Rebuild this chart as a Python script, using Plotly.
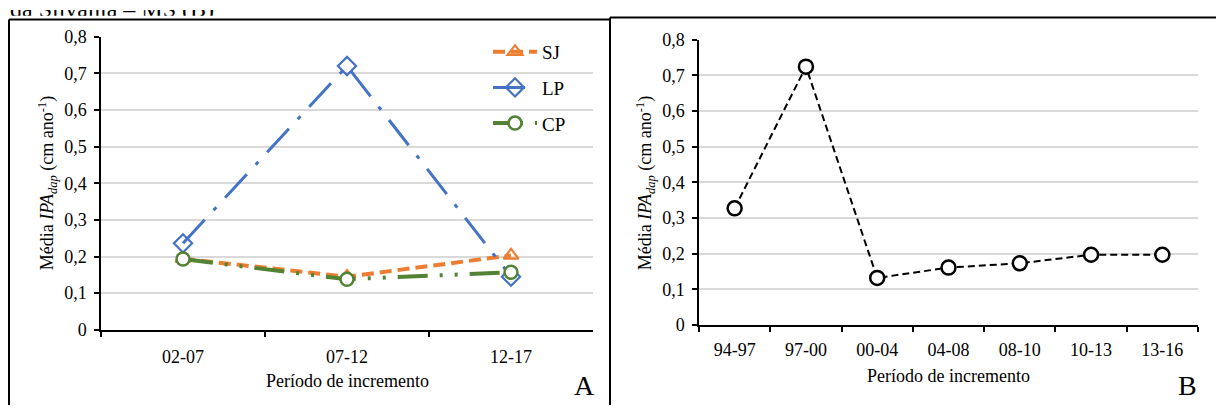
import plotly.graph_objects as go

W, H = 1216, 415

# ---- data ----
periods_a = ["02-07", "07-12", "12-17"]
sj_vals = [0.194, 0.145, 0.203]
lp_vals = [0.236, 0.720, 0.145]
cp_vals = [0.193, 0.138, 0.157]

periods_b = ["94-97", "97-00", "00-04", "04-08", "08-10", "10-13", "13-16"]
b_vals = [0.327, 0.724, 0.132, 0.161, 0.173, 0.197, 0.197]

y_ticks = [0, 0.1, 0.2, 0.3, 0.4, 0.5, 0.6, 0.7, 0.8]
y_ticktext = ["0", "0,1", "0,2", "0,3", "0,4", "0,5", "0,6", "0,7", "0,8"]

top_caption = "da Silvânia – MS (B)"

FONT = "Liberation Serif"

def px_x(p):
    return p / W

def px_y(p):
    return 1 - p / H

fig = go.Figure()

fig.add_trace(go.Scatter(
    x=periods_a, y=sj_vals, name="SJ", legendgroup="a1",
    mode="lines+markers", xaxis="x", yaxis="y",
    line=dict(color="#ED7D31", width=4, dash="12px,6px"),
    marker=dict(symbol="triangle-up-open", size=13, color="#ED7D31",
                line=dict(width=2.2, color="#ED7D31")),
))
fig.add_trace(go.Scatter(
    x=periods_a, y=lp_vals, name="LP", legendgroup="a2",
    mode="lines+markers", xaxis="x", yaxis="y",
    line=dict(color="#4472C4", width=3, dash="32px,13px,4px,13px"),
    marker=dict(symbol="diamond-open", size=14, color="#4472C4",
                line=dict(width=2.2, color="#4472C4")),
))
fig.add_trace(go.Scatter(
    x=periods_a, y=cp_vals, name="CP", legendgroup="a3",
    mode="lines+markers", xaxis="x", yaxis="y",
    line=dict(color="#548235", width=4, dash="30px,12px,3px,12px,3px,12px"),
    marker=dict(symbol="circle", size=13, color="white",
                line=dict(width=2.5, color="#548235")),
))
fig.add_trace(go.Scatter(
    x=periods_b, y=b_vals, name="B", showlegend=False,
    mode="lines+markers", xaxis="x2", yaxis="y2",
    line=dict(color="black", width=2, dash="7px,4px"),
    marker=dict(symbol="circle", size=14, color="white",
                line=dict(width=2.5, color="black")),
))
# cropped caption line at the very top (clipped to a thin strip)
fig.add_trace(go.Scatter(
    x=[10], y=[-1.2], text=[top_caption], mode="text", textposition="top right",
    textfont=dict(family=FONT, size=24, color="black"),
    xaxis="x3", yaxis="y3", showlegend=False, cliponaxis=True,
    hoverinfo="skip",
))

axis_common = dict(
    showline=True, linecolor="black", linewidth=1.5,
    tickfont=dict(family=FONT, size=18, color="black"),
)
yaxis_common = dict(
    axis_common, range=[0, 0.8], tickvals=y_ticks, ticktext=y_ticktext,
    showgrid=True, gridcolor="#d9d9d9", gridwidth=1.5,
    ticks="outside", ticklen=5, tickcolor="black", tickwidth=1.5,
    zeroline=False, fixedrange=True, ticklabelstandoff=4,
)
xaxis_common = dict(
    axis_common, type="category", showgrid=False, zeroline=False,
    ticks="outside", tickson="boundaries", ticklen=5, tickcolor="black",
    tickwidth=1.5, mirror=False,
)
hidden = dict(visible=False, showgrid=False, zeroline=False, fixedrange=True)

fig.update_layout(
    width=W, height=H,
    margin=dict(l=0, r=0, t=0, b=0),
    paper_bgcolor="white", plot_bgcolor="white",
    font=dict(family=FONT, color="black"),
    xaxis=dict(xaxis_common, domain=[px_x(101), px_x(593)], anchor="y",
               range=[-0.5, 2.5], ticklabelstandoff=10),
    yaxis=dict(yaxis_common, domain=[px_y(336), px_y(28)], anchor="x"),
    xaxis2=dict(xaxis_common, domain=[px_x(699), px_x(1198)], anchor="y2",
                range=[-0.5, 6.5], ticklabelstandoff=8),
    yaxis2=dict(yaxis_common, domain=[px_y(331), px_y(31)], anchor="x2"),
    xaxis3=dict(hidden, domain=[0, 1], range=[0, W], anchor="y3"),
    yaxis3=dict(hidden, domain=[px_y(6), 1], range=[0, 1], anchor="x3"),
    legend=dict(
        x=px_x(488), y=px_y(24), xanchor="left", yanchor="top",
        font=dict(family=FONT, size=19, color="black"),
        bgcolor="rgba(0,0,0,0)", tracegroupgap=8, traceorder="grouped",
        itemwidth=44,
    ),
    showlegend=True,
)

ylab = "Média <i>IPA<sub>dap</sub></i> (cm ano<sup>-1</sup>)"
xlab = "Período de incremento"
ann = [
    dict(text=ylab, x=px_x(47), y=px_y(182), textangle=-90, font=dict(size=18)),
    dict(text=ylab, x=px_x(645), y=px_y(182), textangle=-90, font=dict(size=18)),
    dict(text=xlab, x=px_x(347), y=px_y(390), font=dict(size=18)),
    dict(text=xlab, x=px_x(948), y=px_y(385), font=dict(size=18)),
    dict(text="A", x=px_x(584), y=px_y(394), font=dict(size=28)),
    dict(text="B", x=px_x(1187), y=px_y(394), font=dict(size=28)),
]
for a in ann:
    a.setdefault("xanchor", "center")
    a.setdefault("yanchor", "middle")
    a.update(xref="paper", yref="paper", showarrow=False)
    a["font"] = dict(family=FONT, color="black", **a["font"])
fig.update_layout(annotations=ann)

# panel borders
border = dict(type="line", xref="paper", yref="paper",
              line=dict(color="black", width=2))
fig.update_layout(shapes=[
    dict(border, x0=px_x(9), x1=px_x(9), y0=0, y1=px_y(10)),
    dict(border, x0=px_x(9), x1=px_x(610), y0=px_y(10), y1=px_y(10)),
    dict(border, x0=px_x(610), x1=1, y0=px_y(8), y1=px_y(8)),
    dict(border, x0=px_x(610), x1=px_x(610), y0=0, y1=px_y(8)),
])

fig.write_html(
    "out.html",
    config={"displayModeBar": False},
    post_script="document.body.style.margin='0';document.body.style.overflow='hidden';",
)
